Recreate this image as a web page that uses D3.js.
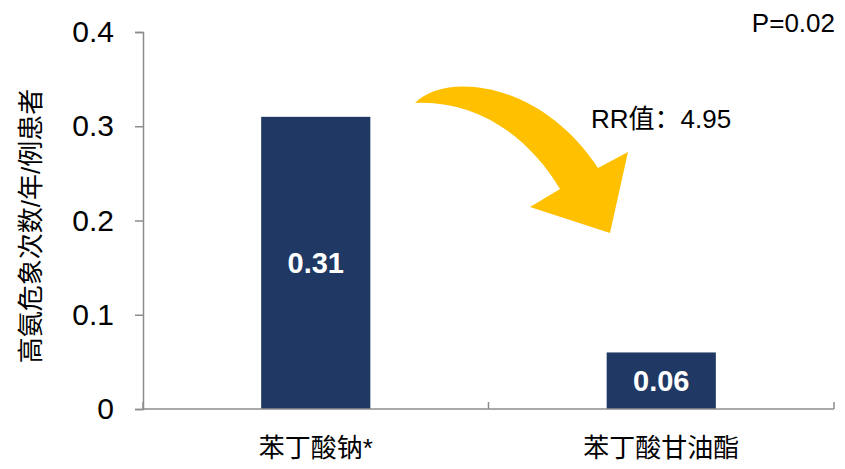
<!DOCTYPE html>
<html><head><meta charset="utf-8">
<script src="https://cdn.jsdelivr.net/npm/d3@7"></script>
<style>
body{margin:0;background:#fff;}
text{font-family:"Liberation Sans",Arial,"Noto Sans CJK SC",sans-serif;}
</style></head>
<body><svg id="c" width="845" height="469"></svg>
<script>
const categories = ["苯丁酸钠*", "苯丁酸甘油酯"];
const values = [0.31, 0.06];
const valueLabels = ["0.31", "0.06"];
const yTicks = [0, 0.1, 0.2, 0.3, 0.4];
const yTickLabels = ["0", "0.1", "0.2", "0.3", "0.4"];
const yTitle = "高氨危象次数/年/例患者";
const pText = "P=0.02";
const rrText = "RR值：4.95";

(function(){
const svg = d3.select("#c");
const mLeft = 143, mRight = 834, mTop = 32, mBottom = 409;
const x = d3.scaleBand().domain(categories).range([mLeft, mRight]).paddingInner(0.684).paddingOuter(0.342);
const y = d3.scaleLinear().domain([0, 0.4]).range([mBottom, mTop]);
const axisColor = "#8c8c8c";

// bars
svg.selectAll("rect.bar").data(values).enter().append("rect")
  .attr("x", (d,i) => x(categories[i])).attr("width", x.bandwidth())
  .attr("y", d => y(d)).attr("height", d => y(0) - y(d))
  .attr("fill", "#203864");

// y axis
const ya = svg.append("g").attr("transform", `translate(${mLeft},0)`)
  .call(d3.axisLeft(y).tickValues(yTicks).tickFormat((d,i) => yTickLabels[i]).tickSize(8).tickPadding(21));
ya.select(".domain").attr("stroke", axisColor).attr("stroke-width", 1.5);
ya.selectAll(".tick line").attr("stroke", axisColor).attr("stroke-width", 1.5);
ya.selectAll(".tick text").attr("font-size", 30).attr("fill", "#000")
  .style("font-family", '"Liberation Sans",Arial,sans-serif');

// x axis
const xg = svg.append("g").attr("transform", `translate(0,${mBottom})`);
xg.append("line").attr("x1", mLeft).attr("x2", mRight).attr("stroke", axisColor).attr("stroke-width", 1.5);
const xb = d3.scaleLinear().domain([0, categories.length]).range([mLeft, mRight]);
xg.selectAll("line.t").data(d3.range(categories.length + 1)).enter().append("line")
  .attr("x1", d => xb(d)).attr("x2", d => xb(d)).attr("y1", 0).attr("y2", -7)
  .attr("stroke", axisColor).attr("stroke-width", 1.5);
xg.selectAll("text").data(categories).enter().append("text")
  .attr("x", d => x(d) + x.bandwidth()/2).attr("y", 48)
  .attr("text-anchor", "middle").attr("font-size", 26).attr("fill", "#000").text(d => d);

// value labels
svg.selectAll("text.v").data(values).enter().append("text")
  .attr("x", (d,i) => x(categories[i]) + x.bandwidth()/2)
  .attr("y", d => (y(d) + y(0))/2 + 10.5)
  .attr("text-anchor", "middle").attr("font-size", 29).attr("font-weight", "bold")
  .attr("fill", "#fff").text((d,i) => valueLabels[i]);

// y title
svg.append("text").attr("transform", `translate(40,226) rotate(-90)`)
  .attr("text-anchor", "middle").attr("font-size", 26).attr("fill", "#000").text(yTitle);

// P text
svg.append("text").attr("x", 835).attr("y", 32).attr("text-anchor", "end")
  .attr("font-size", 26).attr("fill", "#000").text(pText);

// RR text
svg.append("text").attr("x", 591).attr("y", 128).attr("font-size", 26).attr("fill", "#000").text(rrText);

// arrow annotation
svg.append("path")
  .attr("d", "M415,103 C445,72 540,80 598,168 L628,152 L610,233 L530,207 L560,189 C525,130 470,100 415,103 Z")
  .attr("fill", "#FFC000");
})();
</script></body></html>
